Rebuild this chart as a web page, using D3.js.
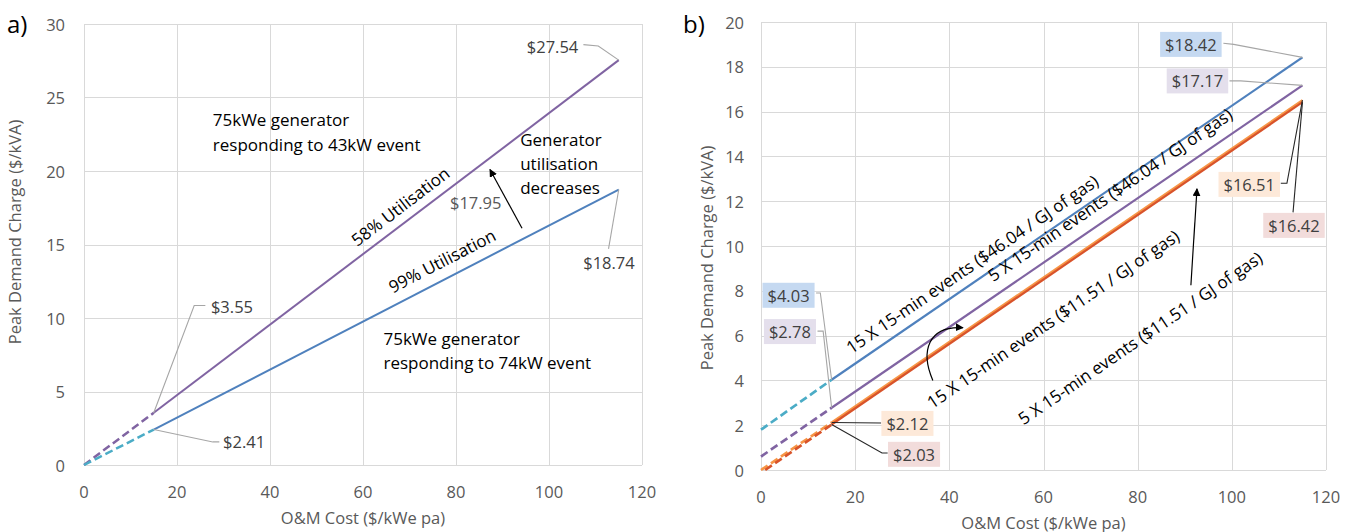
<!DOCTYPE html>
<html>
<head>
<meta charset="utf-8">
<script src="https://cdn.jsdelivr.net/npm/d3@7"></script>
<style>
  body { margin: 0; background: #ffffff; }
  svg { display: block; font-family: "Open Sans", "Noto Sans", sans-serif; }
</style>
</head>
<body>
<svg id="chart" width="1353" height="532"></svg>
<script>
// ---- Axis ticks ----
const omTicks = [0, 20, 40, 60, 80, 100, 120];
const chargeTicksA = [0, 5, 10, 15, 20, 25, 30];
const chargeTicksB = [0, 2, 4, 6, 8, 10, 12, 14, 16, 18, 20];

// ---- O&M cost points where each line changes (dashed below 15, solid to 115) ----
const breakCost = 15;
const endCost = 115;

// ---- Panel a: 75kWe generator, two event sizes ----
const seriesA = ["43kW event (58% utilisation)", "74kW event (99% utilisation)"];
const seriesAStartCost = [0, 0];
const seriesAStartCharge = [0, 0];
const seriesABreakCharge = [3.55, 2.41];
const seriesAEndCharge = [27.54, 18.74];

// ---- Panel b: event count and gas price ----
const seriesB = [
  "15 X 15-min events ($46.04 / GJ of gas)",
  "5 X 15-min events ($46.04 / GJ of gas)",
  "15 X 15-min events ($11.51 / GJ of gas)",
  "5 X 15-min events ($11.51 / GJ of gas)"
];
const seriesBStartCost = [0, 0, 0, 0.9];
const seriesBStartCharge = [1.8, 0.6, 0, 0];
const seriesBBreakCharge = [4.03, 2.78, 2.12, 2.03];
const seriesBEndCharge = [18.42, 17.17, 16.51, 16.42];

// ---- Styles ----
const solidA = ["#8064a2", "#4f81bd"];
const dashA = ["#8064a2", "#4bacc6"];
const solidB = ["#4f81bd", "#8064a2", "#f79646", "#d8532a"];
const dashB = ["#4bacc6", "#8064a2", "#f79646", "#d8532a"];
const boxB = ["#c5d9f1", "#e4dfec", "#fde9d9", "#f2dcdb"];
const drawOrderB = [0, 1, 2, 3];

const svg = d3.select("#chart");
const defs = svg.append("defs");
defs.append("marker")
  .attr("id", "head")
  .attr("viewBox", "0 0 10 10")
  .attr("refX", 9).attr("refY", 5)
  .attr("markerWidth", 8).attr("markerHeight", 8)
  .attr("markerUnits", "userSpaceOnUse")
  .attr("orient", "auto")
  .append("path").attr("d", "M0,0 L10,5 L0,10 Z").attr("fill", "#000");

function drawFrame(g, x, y, xt, yt, xLabelOffset, yLabelOffset, xTitleOffset, yTitleX, yTitleY) {
  const [x0, x1] = x.range();
  const [y0, y1] = y.range();
  g.append("g").selectAll("line").data(yt).join("line")
    .attr("x1", x0).attr("x2", x1)
    .attr("y1", d => Math.round(y(d)) + 0.5).attr("y2", d => Math.round(y(d)) + 0.5)
    .attr("stroke", "#d9d9d9").attr("stroke-width", 1);
  g.append("g").selectAll("line").data(xt).join("line")
    .attr("x1", d => Math.round(x(d)) + 0.5).attr("x2", d => Math.round(x(d)) + 0.5)
    .attr("y1", y0).attr("y2", y1)
    .attr("stroke", "#d9d9d9").attr("stroke-width", 1);
  g.append("g").selectAll("text").data(xt).join("text")
    .attr("x", d => x(d)).attr("y", y0 + xLabelOffset)
    .attr("text-anchor", "middle").attr("dominant-baseline", "central")
    .attr("font-size", 16.5).attr("fill", "#595959")
    .text(d => d);
  g.append("g").selectAll("text").data(yt).join("text")
    .attr("x", x0 - yLabelOffset).attr("y", d => y(d))
    .attr("text-anchor", "end").attr("dominant-baseline", "central")
    .attr("font-size", 16.5).attr("fill", "#595959")
    .text(d => d);
  g.append("text")
    .attr("x", (x0 + x1) / 2).attr("y", y0 + xTitleOffset)
    .attr("text-anchor", "middle").attr("dominant-baseline", "central")
    .attr("font-size", 16.5).attr("fill", "#595959")
    .text("O&M Cost ($/kWe pa)");
  g.append("text")
    .attr("transform", `translate(${yTitleX},${yTitleY}) rotate(-90)`)
    .attr("text-anchor", "middle").attr("dominant-baseline", "central")
    .attr("font-size", 16.5).attr("fill", "#595959")
    .text("Peak Demand Charge ($/kVA)");
}

function drawSeries(g, x, y, startCost, startCharge, breakCharge, endCharge, solidColor, dashColor, width) {
  const line = d3.line().x(d => x(d[0])).y(d => y(d[1]));
  g.append("path")
    .attr("d", line([[startCost, startCharge], [breakCost, breakCharge]]))
    .attr("fill", "none").attr("stroke", dashColor)
    .attr("stroke-width", width + 0.5).attr("stroke-dasharray", "8,4");
  g.append("path")
    .attr("d", line([[breakCost, breakCharge], [endCost, endCharge]]))
    .attr("fill", "none").attr("stroke", solidColor)
    .attr("stroke-width", width);
}

// text rotated to follow a line between two data points
function alongText(g, x, y, cx, cy, p0, p1, text, size) {
  const ang = Math.atan2(y(p1[1]) - y(p0[1]), x(p1[0]) - x(p0[0])) * 180 / Math.PI;
  g.append("text")
    .attr("transform", `translate(${x(cx)},${y(cy)}) rotate(${ang})`)
    .attr("text-anchor", "middle").attr("dominant-baseline", "central")
    .attr("font-size", size).attr("fill", "#000")
    .text(text);
}

function leader(g, x, y, pts, color) {
  g.append("path")
    .attr("d", d3.line().x(d => x(d[0])).y(d => y(d[1]))(pts))
    .attr("fill", "none").attr("stroke", color).attr("stroke-width", 1.1);
}

function valueLabel(g, x, y, cx, cy, anchor, text, fill) {
  const t = g.append("text")
    .attr("x", x(cx)).attr("y", y(cy))
    .attr("text-anchor", anchor).attr("dominant-baseline", "central")
    .attr("font-size", 16.5).attr("fill", "#404040")
    .text(text);
  if (fill) {
    const b = t.node().getBBox();
    g.insert("rect", () => t.node())
      .attr("x", b.x - 5).attr("y", y(cy) - 12.5)
      .attr("width", b.width + 10).attr("height", 25)
      .attr("fill", fill);
  }
  return t;
}

const money = v => "$" + v.toFixed(2);

// ================= Panel a =================
const ax = d3.scaleLinear().domain([0, 120]).range([84, 642]);
const ay = d3.scaleLinear().domain([0, 30]).range([465, 24]);
const gA = svg.append("g");
drawFrame(gA, ax, ay, omTicks, chargeTicksA, 26, 19, 52, 14, 232);

seriesA.forEach((s, i) => {
  drawSeries(gA, ax, ay, seriesAStartCost[i], seriesAStartCharge[i], seriesABreakCharge[i],
    seriesAEndCharge[i], solidA[i], dashA[i], 2);
});

gA.append("text").attr("x", 7).attr("y", 23).attr("dominant-baseline", "central")
  .attr("font-size", 24).attr("fill", "#000").text("a)");

// line captions
alongText(gA, ax, ay, 68.0, 17.6, [breakCost, seriesABreakCharge[0]], [endCost, seriesAEndCharge[0]], "58% Utilisation", 17);
alongText(gA, ax, ay, 77.0, 13.9, [breakCost, seriesABreakCharge[1]], [endCost, seriesAEndCharge[1]], "99% Utilisation", 17);

const blockA = [
  { x: 27.7, y: [23.5, 21.8], lines: ["75kWe generator", "responding to 43kW event"] },
  { x: 64.4, y: [8.6, 6.95], lines: ["75kWe generator", "responding to 74kW event"] },
  { x: 93.8, y: [22.15, 20.5, 18.9], lines: ["Generator", "utilisation", "decreases"] }
];
blockA.forEach(b => b.lines.forEach((l, j) => {
  gA.append("text").attr("x", ax(b.x)).attr("y", ay(b.y[j]))
    .attr("dominant-baseline", "central").attr("font-size", 17).attr("fill", "#000").text(l);
}));

gA.append("path")
  .attr("d", d3.line().x(d => ax(d[0])).y(d => ay(d[1]))([[94.2, 16.1], [87.3, 20.1]]))
  .attr("stroke", "#000").attr("stroke-width", 1.2).attr("marker-end", "url(#head)");

gA.append("text").attr("x", ax(78.7)).attr("y", ay(17.85))
  .attr("dominant-baseline", "central").attr("font-size", 16.5).attr("fill", "#595959").text("$17.95");

// end-point labels
valueLabel(gA, ax, ay, 106.3, 28.5, "end", money(seriesAEndCharge[0]));
leader(gA, ax, ay, [[107.4, 28.6], [110.6, 28.5], [endCost, seriesAEndCharge[0]]], "#a6a6a6");
valueLabel(gA, ax, ay, 112.9, 13.75, "middle", money(seriesAEndCharge[1]));
leader(gA, ax, ay, [[112.8, 14.7], [endCost, seriesAEndCharge[1]]], "#a6a6a6");
valueLabel(gA, ax, ay, 27.3, 10.75, "start", money(seriesABreakCharge[0]));
leader(gA, ax, ay, [[26.1, 10.85], [23.7, 10.85], [breakCost, seriesABreakCharge[0]]], "#a6a6a6");
valueLabel(gA, ax, ay, 29.9, 1.62, "start", money(seriesABreakCharge[1]));
leader(gA, ax, ay, [[breakCost, seriesABreakCharge[1]], [27.7, 1.57], [29.1, 1.57]], "#a6a6a6");

// ================= Panel b =================
const bx = d3.scaleLinear().domain([0, 120]).range([761, 1326]);
const by = d3.scaleLinear().domain([0, 20]).range([470, 22]);
const gB = svg.append("g");
drawFrame(gB, bx, by, omTicks, chargeTicksB, 26, 17, 52, 706, 258);

drawOrderB.forEach(i => {
  drawSeries(gB, bx, by, seriesBStartCost[i], seriesBStartCharge[i], seriesBBreakCharge[i],
    seriesBEndCharge[i], solidB[i], dashB[i], 2.2);
});

gB.append("text").attr("x", 683).attr("y", 23).attr("dominant-baseline", "central")
  .attr("font-size", 24).attr("fill", "#000").text("b)");

const captionB = [[44.8, 9.2], [74.1, 12.3], [62.0, 6.75], [80.5, 5.9]];
seriesB.forEach((s, i) => {
  alongText(gB, bx, by, captionB[i][0], captionB[i][1],
    [breakCost, seriesBBreakCharge[i]], [endCost, seriesBEndCharge[i]], s, 17);
});

// arrows pointing from the $11.51 captions to their lines
gB.append("path")
  .attr("d", `M${bx(36.5)},${by(4.0)} C${bx(33.8)},${by(5.3)} ${bx(35.5)},${by(6.45)} ${bx(42.9)},${by(6.35)}`)
  .attr("fill", "none").attr("stroke", "#000").attr("stroke-width", 1.2).attr("marker-end", "url(#head)");
gB.append("path")
  .attr("d", d3.line().x(d => bx(d[0])).y(d => by(d[1]))([[91.3, 8.25], [92.6, 12.55]]))
  .attr("stroke", "#000").attr("stroke-width", 1.2).attr("marker-end", "url(#head)");

// end-point labels with shaded boxes
const endLabelB = [[91.3, 19.0], [92.7, 17.37], [103.7, 12.75], [113.2, 10.92]];
const endLeaderB = [
  [[98.2, 19.05], [100.4, 19.0]],
  [[99.5, 17.37], [101.9, 17.37]],
  [[110.4, 12.8], [111.7, 12.8]],
  [[113.0, 11.5]]
];
const endLeaderColor = ["#a6a6a6", "#a6a6a6", "#262626", "#262626"];
seriesB.forEach((s, i) => {
  leader(gB, bx, by, endLeaderB[i].concat([[endCost, seriesBEndCharge[i]]]), endLeaderColor[i]);
  valueLabel(gB, bx, by, endLabelB[i][0], endLabelB[i][1], "middle", money(seriesBEndCharge[i]), boxB[i]);
});

const breakLabelB = [[5.85, 7.8], [6.15, 6.18], [31.1, 2.08], [32.5, 0.7]];
const breakLeaderB = [
  [[11.7, 7.9], [12.6, 7.9]],
  [[12.0, 6.2], [13.2, 6.2]],
  [[25.5, 2.1]],
  [[26.9, 0.76], [25.7, 0.76]]
];
seriesB.forEach((s, i) => {
  const pts = i < 2
    ? breakLeaderB[i].concat([[breakCost, seriesBBreakCharge[i]]])
    : [[breakCost, seriesBBreakCharge[i]]].concat(breakLeaderB[i].slice().reverse());
  leader(gB, bx, by, pts, endLeaderColor[i]);
  valueLabel(gB, bx, by, breakLabelB[i][0], breakLabelB[i][1], "middle", money(seriesBBreakCharge[i]), boxB[i]);
});
</script>
</body>
</html>
